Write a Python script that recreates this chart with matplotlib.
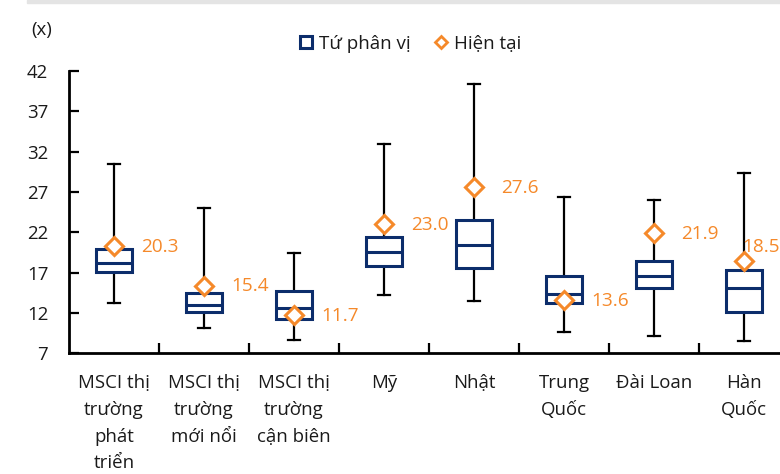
import matplotlib.pyplot as plt
from matplotlib.lines import Line2D
from matplotlib.patches import Rectangle

plt.rcParams['font.family'] = ['Open Sans', 'DejaVu Sans']

categories = ['MSCI thị\ntrường\nphát\ntriển', 'MSCI thị\ntrường\nmới nổi',
              'MSCI thị\ntrường\ncận biên', 'Mỹ', 'Nhật', 'Trung\nQuốc',
              'Đài Loan', 'Hàn\nQuốc']
whis_lo = [13.2, 10.1, 8.7, 14.2, 13.5, 9.7, 9.2, 8.5]
q1 = [17.1, 12.1, 11.2, 17.8, 17.6, 13.2, 15.1, 12.1]
med = [18.2, 13.0, 12.6, 19.5, 20.4, 14.4, 16.6, 15.1]
q3 = [19.9, 14.5, 14.7, 21.4, 23.5, 16.6, 18.4, 17.3]
whis_hi = [30.5, 25.0, 19.4, 33.0, 40.4, 26.4, 26.0, 29.4]
current = [20.3, 15.4, 11.7, 23.0, 27.6, 13.6, 21.9, 18.5]
yticks = [7, 12, 17, 22, 27, 32, 37, 42]

navy = '#0c2d6b'
orange = '#f5892a'
txt = '#1a1a1a'

fig = plt.figure(figsize=(7.8, 4.74), dpi=100)
fig.patches.append(Rectangle((27 / 780, 1 - 3 / 474), 1, 3 / 474,
                             transform=fig.transFigure, color='#e4e4e4', zorder=0))
ax = fig.add_axes([69 / 780, 0.2546, 720 / 780, 0.5956])

stats = []
for i in range(len(categories)):
    stats.append({'whislo': whis_lo[i], 'q1': q1[i], 'med': med[i],
                  'q3': q3[i], 'whishi': whis_hi[i], 'fliers': []})

pos = list(range(len(categories)))
ax.bxp(stats, positions=pos, widths=0.41, capwidths=0.14, patch_artist=True,
       showfliers=False,
       boxprops=dict(facecolor='white', edgecolor=navy, linewidth=2.2, zorder=3),
       medianprops=dict(color=navy, linewidth=2.2, zorder=4),
       whiskerprops=dict(color='black', linewidth=1.6, zorder=2),
       capprops=dict(color='black', linewidth=1.6, zorder=2))

ax.plot(pos, current, linestyle='none', marker='D', markersize=9,
        markerfacecolor='white', markeredgecolor=orange, markeredgewidth=2.2,
        zorder=5, clip_on=False)

for i, v in enumerate(current):
    if i == len(current) - 1:
        off = (-1, 10)
    else:
        off = (19.5, -0.5)
    ax.annotate(f'{v:.1f}', (i, v), xytext=off, textcoords='offset points',
                ha='left', va='center', fontsize=13.7, color=orange, zorder=6)

ax.set_xlim(-0.5, 7.5)
ax.set_ylim(7, 42)
ax.set_yticks(yticks)
ax.set_xticks([k + 0.5 for k in range(len(categories))])
ax.set_xticklabels([])
ax.set_xticks(pos, minor=True)
ax.set_xticklabels(categories, minor=True)
ax.tick_params(axis='x', which='major', direction='in', length=7, width=1.6)
ax.tick_params(axis='x', which='minor', length=0, pad=15, labelsize=13.4,
               labelcolor=txt)
ax.tick_params(axis='y', direction='in', length=7, width=1.6, pad=15,
               labelsize=13.4, labelcolor=txt)
for lbl in ax.get_xticklabels(minor=True):
    lbl.set_multialignment('center')
    lbl.set_linespacing(1.62)
for s in ['top', 'right']:
    ax.spines[s].set_visible(False)
for s in ['left', 'bottom']:
    ax.spines[s].set_linewidth(2)

fig.text(31 / 780, 1 - 30 / 474, '(x)', fontsize=13.4, va='center', ha='left',
         color=txt)

handles = [Line2D([], [], linestyle='none', marker='s', markersize=9,
                  markerfacecolor='white', markeredgecolor=navy, markeredgewidth=2.2),
           Line2D([], [], linestyle='none', marker='D', markersize=6,
                  markerfacecolor='white', markeredgecolor=orange, markeredgewidth=2)]
fig.legend(handles, ['Tứ phân vị', 'Hiện tại'], loc='center',
           bbox_to_anchor=(410 / 780, 1 - 44 / 474), ncol=2, frameon=False,
           fontsize=13.5, handlelength=0.8, handletextpad=0.3, columnspacing=1.2,
           labelcolor=txt)

fig.savefig('out.png', dpi=100)
